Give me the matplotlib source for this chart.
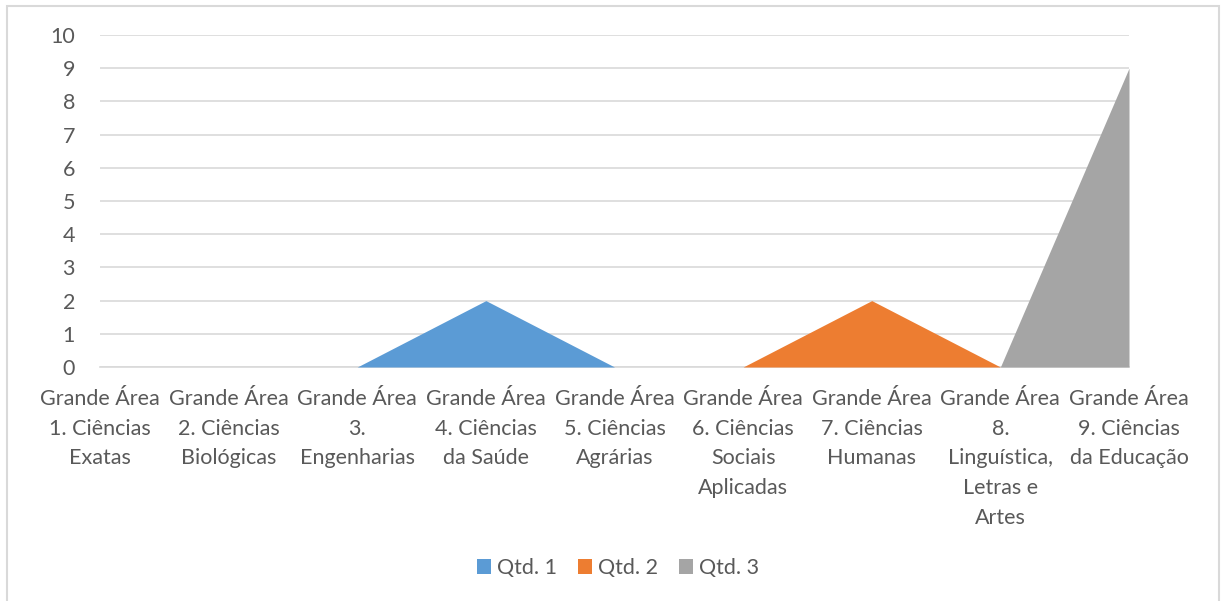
import matplotlib
matplotlib.use("Agg")
import matplotlib.pyplot as plt
from matplotlib.patches import Rectangle, Patch

categories = [
    "Grande Área\n1. Ciências\nExatas",
    "Grande Área\n2. Ciências\nBiológicas",
    "Grande Área\n3.\nEngenharias",
    "Grande Área\n4. Ciências\nda Saúde",
    "Grande Área\n5. Ciências\nAgrárias",
    "Grande Área\n6. Ciências\nSociais\nAplicadas",
    "Grande Área\n7. Ciências\nHumanas",
    "Grande Área\n8.\nLinguística,\nLetras e\nArtes",
    "Grande Área\n9. Ciências\nda Educação",
]
series_names = ["Qtd. 1", "Qtd. 2", "Qtd. 3"]
qtd1 = [0, 0, 0, 2, 0, 0, 0, 0, 0]
qtd2 = [0, 0, 0, 0, 0, 0, 2, 0, 0]
qtd3 = [0, 0, 0, 0, 0, 0, 0, 0, 9]
colors = ["#5B9BD5", "#ED7D31", "#A5A5A5"]

plt.rcParams['font.family'] = ['Lato', 'DejaVu Sans']
text_color = "#595959"

fig = plt.figure(figsize=(12.21, 6.01), dpi=100)
W, H = 1221, 601
ax = fig.add_axes([100 / W, 1 - 367 / H, (1129 - 100) / W, (367 - 35) / H])

x = list(range(len(categories)))
for vals, c, name in zip([qtd1, qtd2, qtd3], colors, series_names):
    ax.fill_between(x, 0, vals, color=c, linewidth=0, zorder=3, label=name)

ax.set_xlim(0, len(categories) - 1)
ax.set_ylim(0, 10)
ax.set_yticks(range(0, 11))
ax.yaxis.grid(True, color="#D9D9D9", linewidth=1.2, zorder=0)
ax.set_axisbelow(True)
for s in ["top", "right", "left"]:
    ax.spines[s].set_visible(False)
ax.spines["bottom"].set_color("#D9D9D9")
ax.spines["bottom"].set_linewidth(1.2)
ax.tick_params(axis="both", length=0, colors=text_color, labelsize=15.5)
ax.tick_params(axis="y", pad=18)
ax.tick_params(axis="x", pad=16)
ax.set_xticks(x)
ax.set_xticklabels(categories, linespacing=1.6)

handles = [Patch(facecolor=c, edgecolor='none') for c in colors]
fig.legend(handles, series_names, loc="center", bbox_to_anchor=(618 / W, 1 - 568 / H),
           ncol=3, frameon=False, fontsize=15.5, labelcolor=text_color,
           handlelength=0.65, handleheight=0.65, handletextpad=0.25, columnspacing=1.0)

fig.patches.append(Rectangle((7 / W, -0.05), (1219 - 7) / W, 1.05 - 6 / H,
                             transform=fig.transFigure, fill=False,
                             edgecolor="#D9D9D9", linewidth=1.5))

fig.savefig("out.png", dpi=100, facecolor="white")
